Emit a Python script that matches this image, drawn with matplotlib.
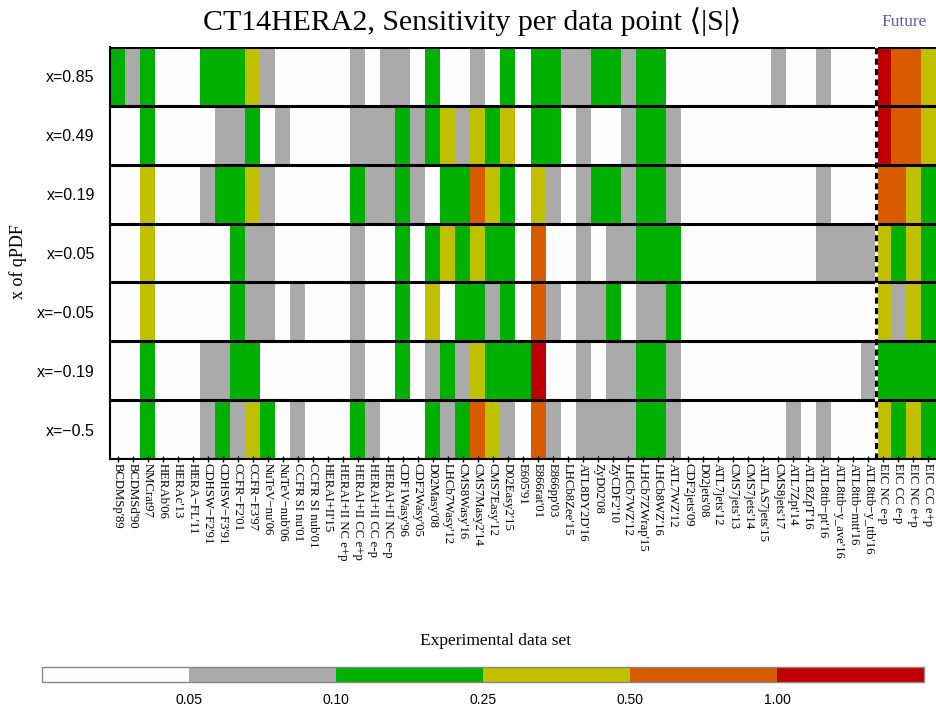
import numpy as np
import matplotlib
matplotlib.use("Agg")
import matplotlib.pyplot as plt
from matplotlib.colors import ListedColormap, BoundaryNorm

# Data sets (columns) in the order they are plotted
datasets = [
    "BCDMSp'89", "BCDMSd'90", "NMCrat97", "HERAb'06", "HERAc'13", "HERA\u2212FL'11",
    "CDHSW\u2212F2'91", "CDHSW\u2212F3'91", "CCFR\u2212F2'01", "CCFR\u2212F3'97",
    "NuTeV\u2212nu'06", "NuTeV\u2212nub'06", "CCFR SI nu'01", "CCFR SI nub'01",
    "HERAI+II'15", "HERAI+II NC e+p", "HERAI+II CC e+p", "HERAI+II CC e-p",
    "HERAI+II NC e-p", "CDF1Wasy'96", "CDF2Wasy'05", "D02Masy'08", "LHCb7Wasy'12",
    "CMS8Wasy'16", "CMS7Masy2'14", "CMS7Easy'12", "D02Easy2'15", "E605'91",
    "E866rat'01", "E866pp'03", "LHCb8Zee'15", "ATL8DY2D'16", "ZyD02'08", "ZyCDF2'10",
    "LHCb7WZ'12", "LHCb7ZWrap'15", "LHCb8WZ'16", "ATL7WZ'12", "CDF2jets'09",
    "D02jets'08", "ATL7jets'12", "CMS7jets'13", "CMS7jets'14", "ATLAS7jets'15",
    "CMS8jets'17", "ATL7Zpt'14", "ATL8ZpT'16", "ATL8ttb\u2212pt'16",
    "ATL8ttb\u2212y_ave'16", "ATL8ttb\u2212mtt'16", "ATL8ttb\u2212y_ttb'16",
    "EIC NC e-p", "EIC CC e-p", "EIC NC e+p", "EIC CC e+p",
]
n_current = 51  # data sets to the left of the EIC pseudodata

# Rows: parton momentum fraction x of the quark PDF
x_rows = ["x=0.85", "x=0.49", "x=0.19", "x=0.05", "x=\u22120.05", "x=\u22120.19", "x=\u22120.5"]

# Sensitivity classes of <|S|>: 0 <0.05, 1 0.05-0.10, 2 0.10-0.25,
# 3 0.25-0.50, 4 0.50-1.00, 5 >1.00
bin_edges = ["0.05", "0.10", "0.25", "0.50", "1.00"]
bin_colors = ["#fdfdfd", "#aaaaaa", "#00b000", "#c0c000", "#d95b00", "#c00000"]

s_x085 = [2, 1, 2, 0, 0, 0, 2, 2, 2, 3, 1, 0, 0, 0, 0, 0, 1, 0, 1, 1, 0, 2, 0, 0, 1, 0, 2, 0,
          2, 2, 1, 1, 2, 2, 1, 2, 2, 0, 0, 0, 0, 0, 0, 0, 1, 0, 0, 1, 0, 0, 0, 5, 4, 4, 3]
s_x049 = [0, 0, 2, 0, 0, 0, 0, 1, 1, 2, 0, 1, 0, 0, 0, 0, 1, 1, 1, 2, 1, 2, 3, 1, 3, 2, 3, 0,
          2, 2, 0, 1, 0, 0, 1, 2, 2, 1, 0, 0, 0, 0, 0, 0, 0, 0, 0, 0, 0, 0, 0, 5, 4, 4, 3]
s_x019 = [0, 0, 3, 0, 0, 0, 1, 2, 2, 3, 1, 0, 0, 0, 0, 0, 2, 1, 1, 2, 1, 0, 2, 2, 4, 3, 2, 0,
          3, 1, 0, 1, 2, 2, 1, 2, 2, 1, 0, 0, 0, 0, 0, 0, 0, 0, 0, 1, 0, 0, 0, 4, 4, 3, 2]
s_x005 = [0, 0, 3, 0, 0, 0, 0, 0, 2, 1, 1, 0, 0, 0, 0, 0, 1, 0, 0, 2, 0, 2, 3, 2, 3, 2, 2, 0,
          4, 0, 0, 1, 0, 1, 1, 2, 2, 2, 0, 0, 0, 0, 0, 0, 0, 0, 0, 1, 1, 1, 1, 3, 2, 3, 2]
s_xm005 = [0, 0, 3, 0, 0, 0, 0, 0, 2, 1, 1, 0, 1, 0, 0, 0, 1, 0, 0, 2, 0, 3, 0, 2, 2, 1, 2, 0,
           4, 1, 0, 1, 1, 2, 0, 1, 1, 2, 0, 0, 0, 0, 0, 0, 0, 0, 0, 0, 0, 0, 0, 3, 1, 3, 2]
s_xm019 = [0, 0, 2, 0, 0, 0, 1, 1, 2, 2, 0, 0, 0, 0, 0, 0, 1, 0, 0, 2, 0, 1, 2, 1, 3, 2, 2, 2,
           5, 0, 0, 1, 0, 1, 1, 2, 2, 1, 0, 0, 0, 0, 0, 0, 0, 0, 0, 0, 0, 0, 1, 2, 2, 2, 2]
s_xm05 = [0, 0, 2, 0, 0, 0, 1, 2, 1, 3, 2, 0, 1, 0, 0, 0, 2, 1, 0, 0, 0, 2, 1, 2, 4, 3, 1, 0,
          4, 1, 0, 1, 1, 1, 1, 2, 2, 1, 0, 0, 0, 0, 0, 0, 0, 1, 0, 1, 0, 0, 0, 3, 2, 3, 2]

grid = np.array([s_x085, s_x049, s_x019, s_x005, s_xm005, s_xm019, s_xm05])
n_rows, n_cols = grid.shape

serif = ["Liberation Serif", "DejaVu Serif"]
sans = ["Liberation Sans", "DejaVu Sans"]

fig = plt.figure(figsize=(9.36, 7.13), dpi=100)
W, H = 936.0, 713.0
ax = fig.add_axes([110 / W, 1 - 459 / H, 826 / W, 412 / H])

cmap = ListedColormap(bin_colors)
norm = BoundaryNorm(np.arange(-0.5, len(bin_colors) + 0.5), cmap.N)
mesh = ax.pcolormesh(np.arange(n_cols + 1), np.arange(n_rows + 1), grid,
                     cmap=cmap, norm=norm, edgecolors="none")
ax.set_xlim(0, n_cols)
ax.set_ylim(n_rows, 0)

for yb in range(n_rows + 1):
    ax.axhline(yb, color="black", lw=2.2, zorder=3)

# separator between current data and EIC pseudodata
ax.axvline(n_current, color="white", lw=2.2, zorder=4)
ax.axvline(n_current, color="black", lw=2.2, ls=(0, (2.0, 1.4)), zorder=5)

for side in ["top", "right"]:
    ax.spines[side].set_visible(False)
ax.spines["left"].set_linewidth(1.5)
ax.spines["bottom"].set_linewidth(1.5)

ax.set_yticks(np.arange(n_rows) + 0.5)
ax.set_yticklabels(x_rows, family=sans, fontsize=11.5)
ax.tick_params(axis="y", length=0, pad=11)

ax.set_xticks(np.arange(n_cols) + 0.5)
ax.set_xticklabels(datasets, rotation=270, family=serif, fontsize=9.2,
                   ha="center", va="top")
ax.tick_params(axis="x", direction="inout", length=4, width=1, pad=1)

fig.text(18 / W, 1 - 262 / H, "x of qPDF", rotation=90, family=serif,
         fontsize=13, ha="center", va="center")

fig.text(472 / W, 1 - 22 / H,
         "CT14HERA2, Sensitivity per data point \u27e8|S|\u27e9",
         family=serif, fontsize=21.5, ha="center", va="center")
fig.text(904 / W, 1 - 22 / H, "Future", color="#5b5bb0", family=serif,
         fontsize=12.5, ha="center", va="center")

# colour key
cax = fig.add_axes([42 / W, 1 - 682 / H, 882 / W, 15 / H])
cb = fig.colorbar(mesh, cax=cax, orientation="horizontal",
                  ticks=np.arange(len(bin_edges)) + 0.5)
cb.set_ticklabels(bin_edges)
cb.ax.minorticks_off()
cb.ax.tick_params(which="both", length=0, pad=8, labelsize=10)
for t in cb.ax.get_xticklabels():
    t.set_family(sans)
cb.outline.set_edgecolor("#888888")
cb.outline.set_linewidth(1)
fig.text(496 / W, 1 - 641 / H, "Experimental data set", family=serif,
         fontsize=12.5, ha="center", va="center")

fig.savefig("out.png", dpi=100)
